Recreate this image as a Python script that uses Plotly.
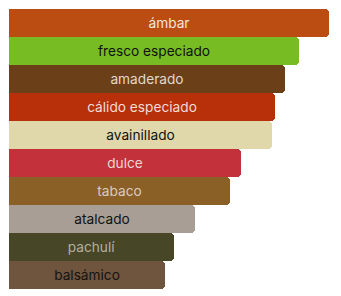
import plotly.graph_objects as go

accords = ["ámbar", "fresco especiado", "amaderado", "cálido especiado", "avainillado",
           "dulce", "tabaco", "atalcado", "pachulí", "balsámico"]
values = [100, 90.6, 86.3, 83.1, 82.2, 72.5, 69.0, 58.1, 51.6, 48.8]
colors = ["#BC4D12", "#78BC23", "#6B3F18", "#B7300A", "#E0D8AA",
          "#C3313A", "#8B6027", "#A89E95", "#474627", "#6F553E"]
text_colors = ["#F2E6DC", "#111111", "#E2D8D0", "#F0DCD6", "#111111",
               "#E8D6D8", "#D8CCBE", "#111111", "#B0B0A4", "#151210"]

fig = go.Figure(go.Bar(
    x=values, y=accords, orientation="h",
    marker=dict(color=colors, line=dict(width=0)),
    text=accords, textposition="inside", insidetextanchor="middle",
    textfont=dict(color=text_colors, size=13.7, family="Inter"),
    width=1, hoverinfo="skip",
))
fig.update_layout(
    width=341, height=296,
    margin=dict(l=9, r=12, t=9, b=7),
    paper_bgcolor="white", plot_bgcolor="white",
    barcornerradius=4, bargap=0, showlegend=False,
    xaxis=dict(range=[0, 100], visible=False),
    yaxis=dict(autorange="reversed", visible=False),
    uniformtext=dict(minsize=13, mode="show"),
)
fig.write_html("out.html", config={"displayModeBar": False})
